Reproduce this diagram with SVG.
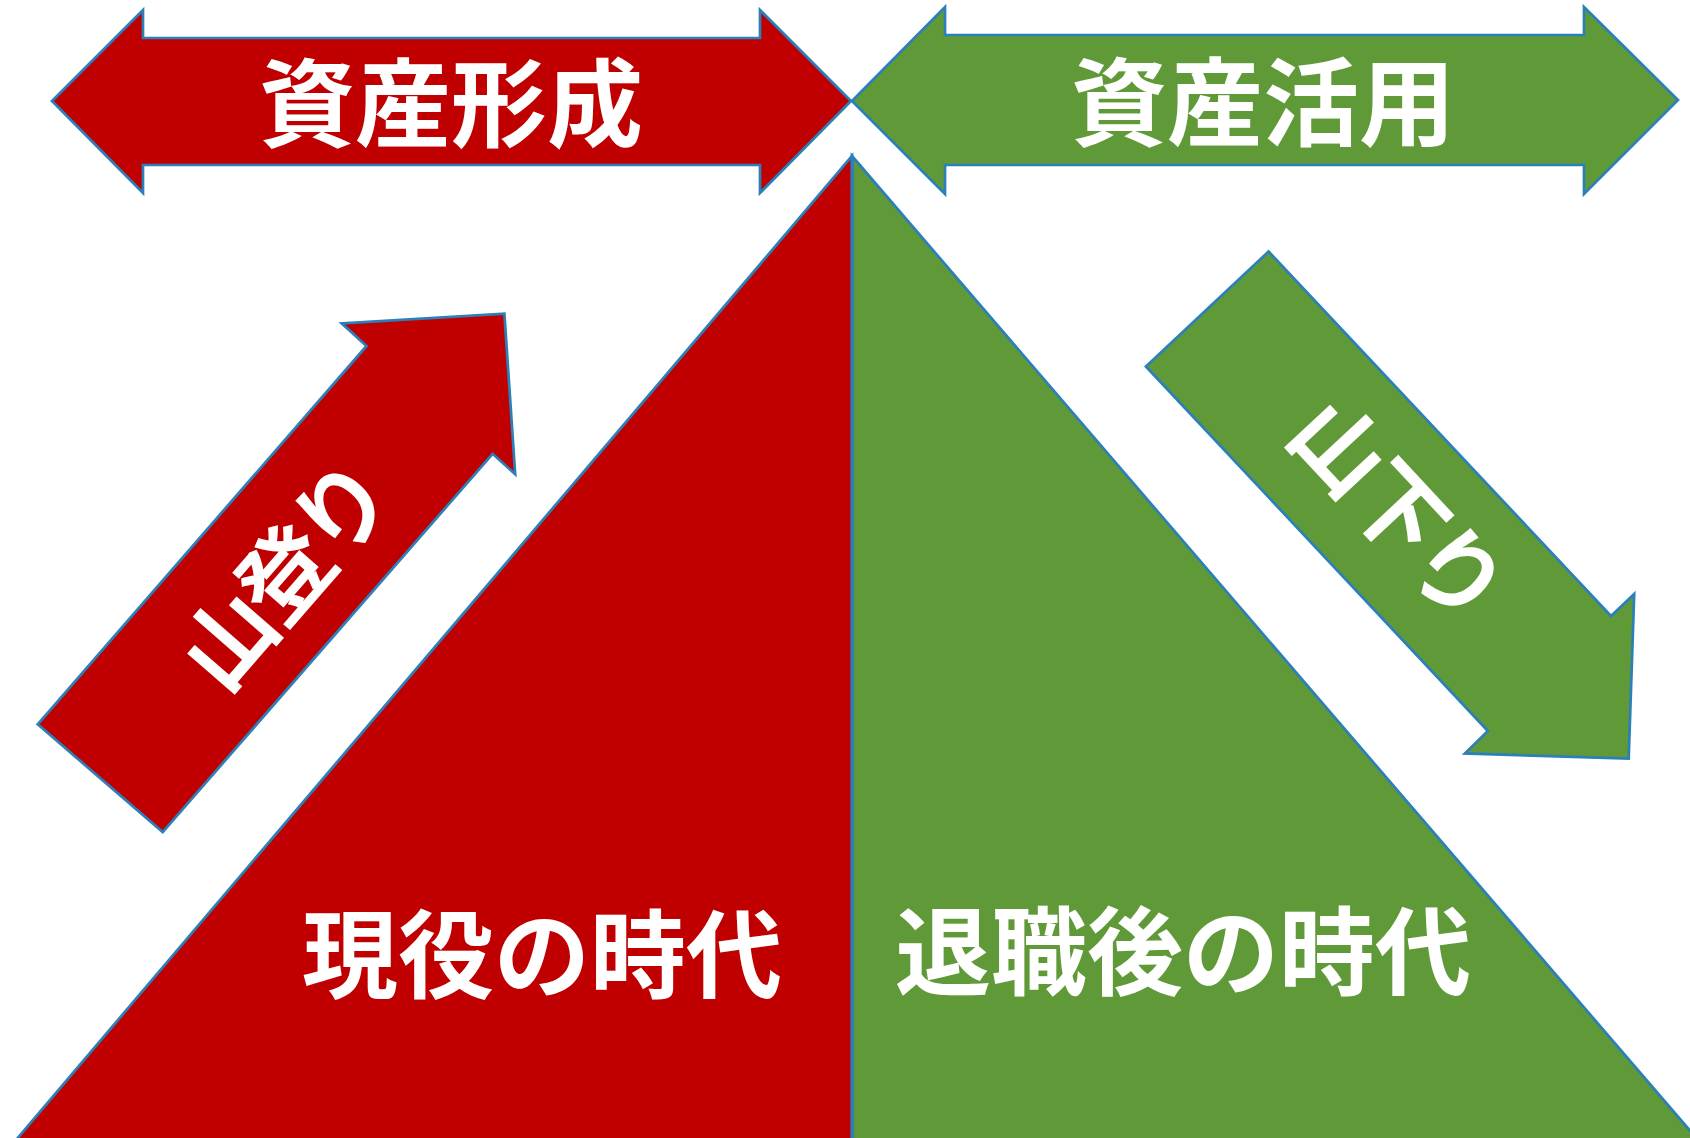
<svg xmlns="http://www.w3.org/2000/svg" width="1690" height="1138" viewBox="0 0 1690 1138">
<style>
.red{fill:#C00000;stroke:#2B80B9;stroke-width:2.7;stroke-linejoin:miter}
.green{fill:#609937;stroke:#2B80B9;stroke-width:2.7;stroke-linejoin:miter}
.t{font-family:"Noto Sans CJK JP","Noto Sans CJK SC",sans-serif;font-weight:700;fill:#FFFFFF;text-anchor:middle}
.big{font-size:96px}
.mid{font-size:92px;letter-spacing:-5px}
</style>
<rect width="1690" height="1138" fill="#FFFFFF"/>
<g id="triangle-red">
<polygon class="red" points="852,156 852,1140 16,1140"/>
</g>
<g id="triangle-green">
<polygon class="green" points="852,156 1698,1140 852,1140"/>
</g>
<g id="connectors">
<line x1="852.5" y1="156" x2="852.5" y2="1140" stroke="#2B80B9" stroke-width="3"/>
</g>
<g id="arrow-formation">
<polygon class="red" points="52,101 143,10 143,38 760,38 760,10 851,101 760,193 760,165 143,165 143,193"/>
<text class="t big" x="451" y="139">資産形成</text>
</g>
<g id="arrow-utilization">
<polygon class="green" points="852,101 945,7 945,35 1584,35 1584,7 1678,100 1584,194 1584,165 945,165 945,194"/>
<text class="t big" x="1263" y="138">資産活用</text>
</g>
<g id="arrow-up">
<polygon class="red" points="37.7,724.3 162.7,832.1 492.6,453.8 515.2,474.2 504.4,313.6 341.7,323.3 366.5,346"/>
<text class="t mid" transform="translate(283,575) rotate(-49)" x="0" y="35">山登り</text>
</g>
<g id="arrow-down">
<polygon class="green" points="1268.6,251.5 1145.9,366.5 1487.9,731 1464.9,753.4 1628.7,758.6 1634.2,594 1611,616"/>
<text class="t mid" transform="translate(1398,508) rotate(47)" x="0" y="35">山下り</text>
</g>
<g id="label-working">
<text class="t big" x="542" y="990">現役の時代</text>
</g>
<g id="label-retired">
<text class="t big" x="1183" y="987">退職後の時代</text>
</g>
</svg>
